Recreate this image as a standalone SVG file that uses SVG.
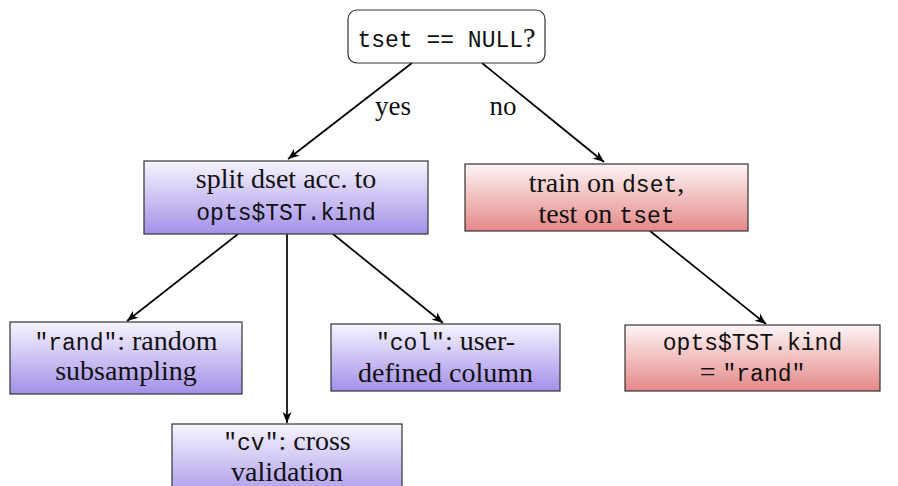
<svg xmlns="http://www.w3.org/2000/svg" width="898" height="486" viewBox="0 0 898 486">
<defs>
<linearGradient id="gp" x1="0" y1="0" x2="0" y2="1">
<stop offset="0" stop-color="#f7f5fe"/>
<stop offset="1" stop-color="#a390e8"/>
</linearGradient>
<linearGradient id="gr" x1="0" y1="0" x2="0" y2="1">
<stop offset="0" stop-color="#fdf5f5"/>
<stop offset="1" stop-color="#e58888"/>
</linearGradient>
<marker id="ar" viewBox="-12 -6 13 12" refX="0" refY="0" markerWidth="13" markerHeight="12" markerUnits="userSpaceOnUse" orient="auto">
<path d="M0,0 L-11,-4.5 L-8,0 L-11,4.5 Z" fill="#000"/>
</marker>
</defs>
<style>
.box{stroke:#333;stroke-width:1.2}
.p{fill:url(#gp)}
.r{fill:url(#gr)}
text{font-family:"Liberation Serif","Times New Roman",serif;font-size:28px;fill:#111;text-anchor:middle}
.m{font-family:"Liberation Mono","DejaVu Sans Mono",monospace;font-size:23px}
.e{fill:none;stroke:#000;stroke-width:1.7;marker-end:url(#ar)}
</style>
<rect width="898" height="486" fill="#fff"/>
<g id="edges">
<line class="e" x1="412" y1="63" x2="288" y2="159"/>
<line class="e" x1="482" y1="63" x2="604" y2="162"/>
<line class="e" x1="238" y1="234" x2="127" y2="321"/>
<line class="e" x1="287" y1="234" x2="287" y2="423"/>
<line class="e" x1="333" y1="234" x2="443" y2="323"/>
<line class="e" x1="650" y1="231" x2="766" y2="324"/>
<text x="393" y="115" style="font-size:27px">yes</text>
<text x="503" y="115" style="font-size:27px">no</text>
</g>
<g id="root">
<rect class="box" x="348" y="10" width="197" height="53" rx="9" fill="#fff"/>
<text x="446.5" y="47"><tspan class="m">tset == NULL</tspan>?</text>
</g>
<g id="split">
<rect class="box p" x="144" y="161" width="284" height="73"/>
<text x="286" y="188">split dset acc. to</text>
<text x="286" y="220" class="m">opts$TST.kind</text>
</g>
<g id="train">
<rect class="box r" x="465" y="164" width="283" height="67"/>
<text x="606.5" y="192">train on <tspan class="m">dset</tspan>,</text>
<text x="606.5" y="223">test on <tspan class="m">tset</tspan></text>
</g>
<g id="rand">
<rect class="box p" x="10" y="322" width="232" height="72"/>
<text x="126" y="350"><tspan class="m">"rand"</tspan>: random</text>
<text x="126" y="380">subsampling</text>
</g>
<g id="col">
<rect class="box p" x="331" y="324" width="229" height="67"/>
<text x="445.5" y="350"><tspan class="m">"col"</tspan>: user-</text>
<text x="445.5" y="382">defined column</text>
</g>
<g id="opts">
<rect class="box r" x="625" y="325" width="255" height="66"/>
<text x="752.5" y="350" class="m">opts$TST.kind</text>
<text x="752.5" y="381">= <tspan class="m">"rand"</tspan></text>
</g>
<g id="cv">
<rect class="box p" x="172" y="424" width="230" height="80"/>
<text x="287" y="450"><tspan class="m">"cv"</tspan>: cross</text>
<text x="287" y="481">validation</text>
</g>
</svg>
